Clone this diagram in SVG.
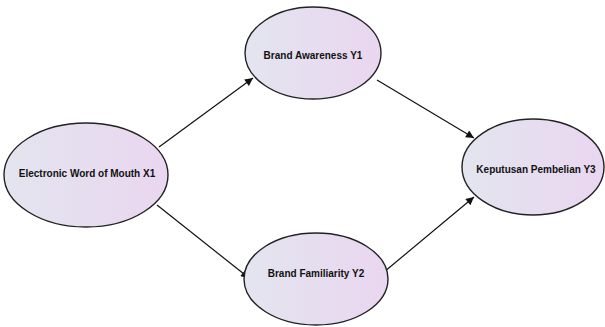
<svg xmlns="http://www.w3.org/2000/svg" width="605" height="327" viewBox="0 0 605 327">
<defs>
<linearGradient id="g" x1="0" y1="0" x2="1" y2="0">
<stop offset="0" stop-color="#e3e5ef"/>
<stop offset="1" stop-color="#ead6f0"/>
</linearGradient>
<marker id="ah" viewBox="0 0 10 10" refX="10" refY="5" markerWidth="10" markerHeight="8" markerUnits="userSpaceOnUse" orient="auto">
<path d="M0,0 L10,5 L0,10 Z" fill="#111"/>
</marker>
<style>
.n{fill:url(#g);stroke:#222;stroke-width:1.4}
.t{font-family:"Liberation Sans",Arial,sans-serif;font-weight:bold;font-size:10px;fill:#111;text-anchor:middle}
.c{stroke:#111;stroke-width:1.2;fill:none;marker-end:url(#ah)}
</style>
</defs>
<rect width="605" height="327" fill="#fff"/>
<g id="connectors">
<line class="c" x1="159" y1="147" x2="253" y2="78"/>
<line class="c" x1="157" y1="205" x2="249" y2="278"/>
<line class="c" x1="377" y1="80" x2="474" y2="138"/>
<line class="c" x1="384" y1="272" x2="474" y2="197"/>
</g>
<g id="ewom">
<ellipse class="n" cx="86" cy="175" rx="82" ry="52"/>
<text class="t" x="87" y="177">Electronic Word of Mouth X1</text>
</g>
<g id="ba">
<ellipse class="n" cx="313" cy="53" rx="68" ry="46"/>
<text class="t" x="313" y="59">Brand Awareness Y1</text>
</g>
<g id="bf">
<ellipse class="n" cx="316" cy="279" rx="72" ry="46"/>
<text class="t" x="316" y="277">Brand Familiarity Y2</text>
</g>
<g id="kp">
<ellipse class="n" cx="533" cy="167" rx="71" ry="48"/>
<text class="t" x="536" y="173">Keputusan Pembelian Y3</text>
</g>
</svg>
